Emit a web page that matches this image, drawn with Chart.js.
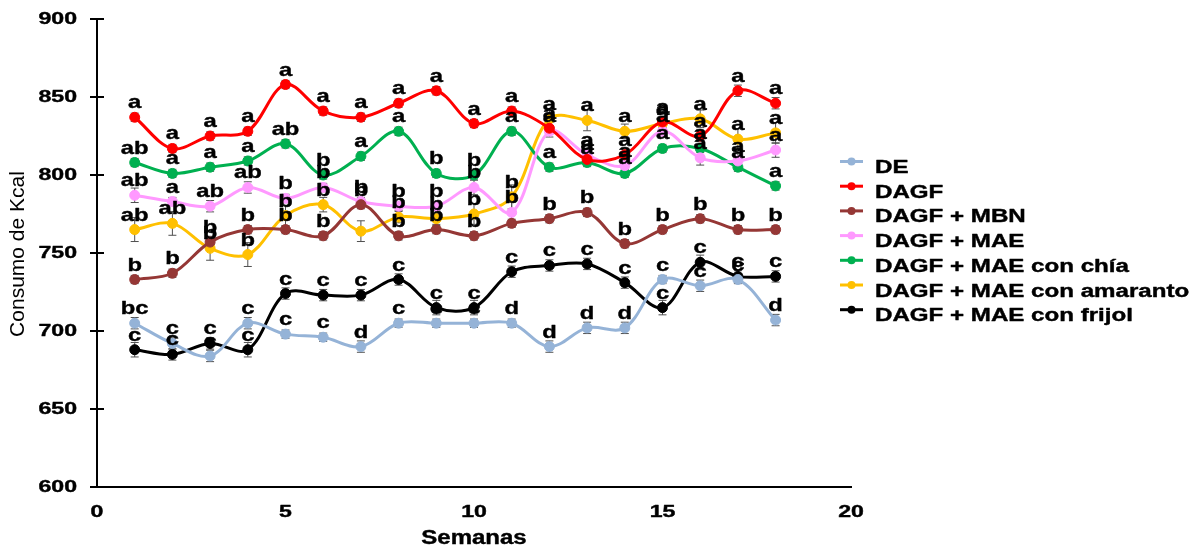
<!DOCTYPE html>
<html>
<head>
<meta charset="utf-8">
<script src="https://cdn.jsdelivr.net/npm/chart.js@4/dist/chart.umd.min.js"></script>
<style>
  html, body { margin: 0; padding: 0; background: #ffffff; }
  #wrap { width: 1199px; height: 550px; position: relative; }
</style>
</head>
<body>
<div id="wrap"><canvas id="chart" width="1199" height="550"></canvas></div>
<script>
// Semanas del estudio
const weeks = [1, 2, 3, 4, 5, 6, 7, 8, 9, 10, 11, 12, 13, 14, 15, 16, 17, 18];

// Consumo de Kcal por grupo (media) y su error (±)
const seriesNames = ['DE', 'DAGF', 'DAGF + MBN', 'DAGF + MAE', 'DAGF + MAE con chía', 'DAGF + MAE con amaranto', 'DAGF + MAE con frijol'];
const seriesColors = ['#95B3D7', '#FF0000', '#953735', '#FF99FF', '#00B050', '#FFC000', '#000000'];

const valDE        = [705, 692, 684, 705, 698, 696, 690, 705, 705, 705, 705, 690, 702, 702, 733, 729, 733, 707];
const valDAGF      = [837, 817, 825, 828, 858, 841, 837, 846, 854, 833, 841, 830, 810, 813, 834, 825, 854, 846];
const valMBN       = [733, 737, 757, 765, 765, 761, 781, 761, 765, 761, 769, 772, 776, 756, 765, 772, 765, 765];
const valMAE       = [787, 783, 780, 792, 785, 792, 783, 780, 780, 792, 776, 828, 813, 806, 828, 811, 809, 816];
const valChia      = [808, 801, 805, 809, 820, 800, 812, 828, 801, 800, 828, 805, 808, 801, 817, 817, 805, 793];
const valAmaranto  = [765, 769, 753, 749, 774, 781, 764, 773, 772, 775, 786, 836, 835, 828, 833, 836, 823, 827];
const valFrijol    = [688, 685, 692, 688, 724, 723, 723, 733, 715, 715, 738, 742, 743, 731, 715, 744, 735, 735];

const errDE        = [3, 3, 3, 3, 2, 2, 3, 2, 2, 2, 2, 3, 3, 3, 2, 3, 2, 3];
const errDAGF      = [2, 2, 2, 2, 2, 2, 2, 2, 2, 2, 2, 3, 3, 3, 3, 3, 3, 3];
const errMBN       = [2, 2, 3, 2, 2, 2, 2, 2, 2, 2, 2, 2, 2, 2, 2, 2, 2, 2];
const errMAE       = [4, 2, 3, 3, 2, 2, 2, 2, 2, 4, 6, 3, 5, 4, 3, 4, 4, 4];
const errChia      = [2, 2, 2, 2, 2, 2, 2, 2, 2, 2, 2, 2, 2, 2, 2, 2, 2, 2];
const errAmaranto  = [7, 7, 7, 7, 6, 4, 6, 3, 3, 6, 7, 6, 6, 4, 3, 5, 6, 6];
const errFrijol    = [4, 3, 3, 4, 3, 3, 3, 3, 4, 4, 3, 3, 3, 3, 4, 4, 3, 3];

// Letras de significancia estadística
const letDE        = ['bc', 'c', 'c', 'c', 'c', 'c', 'd', 'c', 'c', 'c', 'd', 'd', 'd', 'd', 'c', 'c', 'c', 'd'];
const letDAGF      = ['a', 'a', 'a', 'a', 'a', 'a', 'a', 'a', 'a', 'a', 'a', 'a', 'a', 'a', 'a', 'a', 'a', 'a'];
const letMBN       = ['b', 'b', 'b', 'b', 'b', 'b', 'b', 'b', 'b', 'b', '', 'b', 'b', 'b', 'b', 'b', 'b', 'b'];
const letMAE       = ['ab', 'a', 'ab', 'ab', 'b', 'b', 'b', 'b', 'b', 'b', 'b', 'a', 'a', 'a', 'a', 'a', 'a', 'a'];
const letChia      = ['ab', 'a', 'a', 'a', 'ab', 'b', 'a', 'a', 'b', 'b', 'a', 'a', 'a', 'a', 'a', 'a', 'a', 'a'];
const letAmaranto  = ['ab', 'ab', 'b', 'b', 'b', 'b', '', 'b', 'b', 'b', 'b', 'a', 'a', 'a', 'a', 'a', 'a', 'a'];
const letFrijol    = ['c', 'c', 'c', 'c', 'c', 'c', 'c', 'c', 'c', 'c', 'c', 'c', 'c', 'c', 'c', 'c', 'c', 'c'];

// Ejes
const xMin = 0, xMax = 20, xStep = 5;
const yMin = 600, yMax = 900, yStep = 50;
const xTitle = 'Semanas';
const yTitle = 'Consumo de Kcal';

const allValues  = [valDE, valDAGF, valMBN, valMAE, valChia, valAmaranto, valFrijol];
const allErrors  = [errDE, errDAGF, errMBN, errMAE, errChia, errAmaranto, errFrijol];
const allLetters = [letDE, letDAGF, letMBN, letMAE, letChia, letAmaranto, letFrijol];

const FONT = '"Liberation Sans", Arial, sans-serif';

// Texto con ensanchamiento horizontal (con un ligero trazo para darle cuerpo)
function wideText(ctx, text, x, y, font, sx, align, weight) {
  ctx.save();
  ctx.font = font;
  ctx.fillStyle = '#000000';
  ctx.strokeStyle = '#000000';
  ctx.lineWidth = weight || 0;
  ctx.lineJoin = 'round';
  ctx.textAlign = align || 'center';
  ctx.textBaseline = 'alphabetic';
  ctx.translate(x, y);
  ctx.scale(sx, 1);
  ctx.fillText(text, 0, 0);
  if (weight) ctx.strokeText(text, 0, 0);
  ctx.restore();
}

const datasets = seriesNames.map((name, i) => ({
  label: name,
  data: weeks.map((w, j) => ({ x: w, y: allValues[i][j] })),
  errors: allErrors[i],
  letters: allLetters[i],
  borderColor: seriesColors[i],
  backgroundColor: seriesColors[i],
  pointBackgroundColor: seriesColors[i],
  pointBorderColor: seriesColors[i],
  pointRadius: 5,
  pointBorderWidth: 1,
  borderWidth: 3,
  tension: 0.35,
  fill: false
}));

// Barras de error con remate, por debajo de las líneas
const errorBars = {
  id: 'errorBars',
  beforeDatasetsDraw(chart) {
    const ctx = chart.ctx;
    const ys = chart.scales.y;
    ctx.save();
    ctx.strokeStyle = '#505050';
    ctx.lineWidth = 1;
    chart.data.datasets.forEach((ds, i) => {
      const meta = chart.getDatasetMeta(i);
      meta.data.forEach((pt, j) => {
        const v = ds.data[j].y, e = ds.errors[j];
        const yTop = ys.getPixelForValue(v + e);
        const yBot = ys.getPixelForValue(v - e);
        const x = pt.x;
        ctx.beginPath();
        ctx.moveTo(x, yTop - 1); ctx.lineTo(x, yBot + 1);
        ctx.moveTo(x - 4, yTop - 1); ctx.lineTo(x + 4, yTop - 1);
        ctx.moveTo(x - 4, yBot + 1); ctx.lineTo(x + 4, yBot + 1);
        ctx.stroke();
      });
    });
    ctx.restore();
  }
};

// Letras sobre cada punto, ejes, títulos y leyenda
const decorations = {
  id: 'decorations',
  afterDraw(chart) {
    const ctx = chart.ctx;
    const xs = chart.scales.x, ys = chart.scales.y;
    const area = chart.chartArea;

    // letras
    chart.data.datasets.forEach((ds, i) => {
      const meta = chart.getDatasetMeta(i);
      meta.data.forEach((pt, j) => {
        const t = ds.letters[j];
        if (t) wideText(ctx, t, pt.x, pt.y - 9, 'bold 19px ' + FONT, 1.25, 'center', 0.4);
      });
    });

    // marcas del eje Y (cruzan el eje)
    ctx.save();
    ctx.strokeStyle = '#000000';
    ctx.lineWidth = 2;
    ys.ticks.forEach(t => {
      const y = ys.getPixelForValue(t.value);
      ctx.beginPath();
      ctx.moveTo(area.left - 7, y);
      ctx.lineTo(area.left + 7, y);
      ctx.stroke();
    });
    ctx.restore();

    // etiquetas de los ejes
    ys.ticks.forEach(t => {
      const y = ys.getPixelForValue(t.value);
      wideText(ctx, String(t.value), 77, y + 4.5, 'bold 16.5px ' + FONT, 1.4, 'right', 0.4);
    });
    xs.ticks.forEach(t => {
      const x = xs.getPixelForValue(t.value);
      wideText(ctx, String(t.value), x, 517, 'bold 16.5px ' + FONT, 1.4, 'center', 0.4);
    });

    // títulos
    wideText(ctx, xTitle, (area.left + area.right) / 2, 544, 'bold 20px ' + FONT, 1.2, 'center', 0.4);
    ctx.save();
    ctx.translate(18, 254);
    ctx.rotate(-Math.PI / 2);
    ctx.font = '21px ' + FONT;
    ctx.fillStyle = '#000000';
    ctx.textAlign = 'center';
    ctx.textBaseline = 'middle';
    ctx.fillText(yTitle, 0, 0);
    ctx.restore();

    // leyenda
    chart.data.datasets.forEach((ds, i) => {
      const base = 173 + i * 24.7;
      const ly = base - 11.5;
      ctx.save();
      ctx.strokeStyle = ds.borderColor;
      ctx.fillStyle = ds.borderColor;
      ctx.lineWidth = 3;
      ctx.beginPath();
      ctx.moveTo(840, ly); ctx.lineTo(863, ly);
      ctx.stroke();
      ctx.beginPath();
      ctx.arc(851.5, ly, 4, 0, Math.PI * 2);
      ctx.fill();
      ctx.restore();
      wideText(ctx, ds.label, 875, base, 'bold 18px ' + FONT, 1.34, 'left', 0.4);
    });
  }
};

new Chart(document.getElementById('chart'), {
  type: 'line',
  data: { datasets },
  plugins: [errorBars, decorations],
  options: {
    responsive: false,
    animation: false,
    devicePixelRatio: 1,
    layout: { padding: { top: 19, right: 348, bottom: 0, left: 0 } },
    plugins: { legend: { display: false }, tooltip: { enabled: false } },
    scales: {
      x: {
        type: 'linear',
        min: xMin, max: xMax,
        ticks: { stepSize: xStep, display: false },
        grid: { display: true, drawOnChartArea: false, drawTicks: false },
        border: { display: true, color: '#000000', width: 2 },
        afterFit(scale) { scale.height = 63; }
      },
      y: {
        type: 'linear',
        min: yMin, max: yMax,
        ticks: { stepSize: yStep, display: false },
        grid: { display: true, drawOnChartArea: false, drawTicks: false },
        border: { display: true, color: '#000000', width: 2 },
        afterFit(scale) { scale.width = 97; }
      }
    }
  }
});
</script>
</body>
</html>
